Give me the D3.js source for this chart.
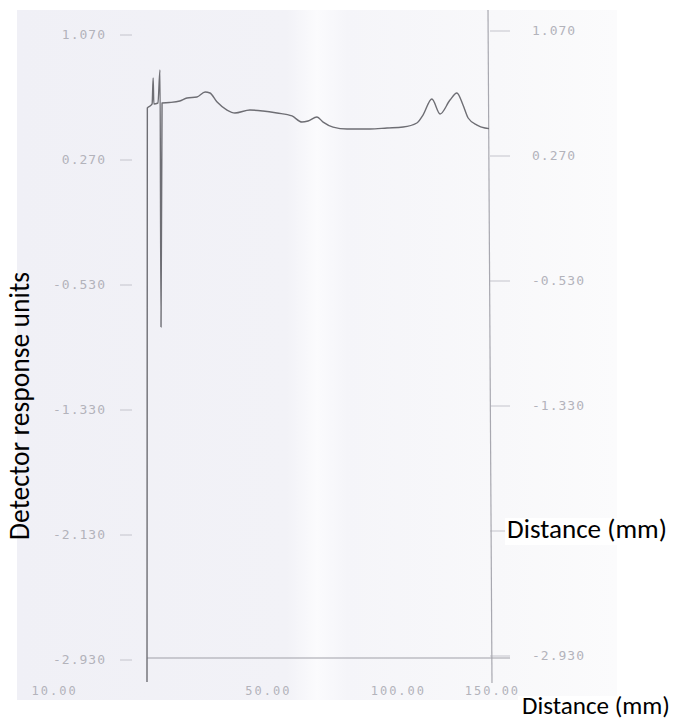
<!DOCTYPE html>
<html><head><meta charset="utf-8">
<script src="https://cdn.jsdelivr.net/npm/d3@7"></script>
<style>html,body{margin:0;padding:0;background:#fff;}svg{display:block;}</style>
</head><body>
<svg id="chart" width="674" height="721"></svg>
<script>
// ---- data ----
const yTicks = [1.070, 0.270, -0.530, -1.330, -2.130, -2.930];
const yTickLabels = ["1.070", "0.270", "-0.530", "-1.330", "-2.130", "-2.930"];
// right-side labels visible in the reference (the -2.130 one is covered by the axis title)
const yTickLabelsRight = ["1.070", "0.270", "-0.530", "-1.330", "", "-2.930"];
const xTickLabels = ["10.00", "50.00", "100.00", "150.00"];
const xTickAt = [-27, 35.5, 73.5, 101];
const distance = [0, 0.1, 0.9, 1.5, 1.8, 2.0, 3.2, 3.8, 4.1, 4.4, 6.5, 9.6, 11.7, 14.6, 17.0, 18.4, 20.5, 23.4, 25.7, 30.1, 33.9, 38.0, 42.4, 45.3, 47.1, 49.7, 51.5, 54.4, 58.5, 65.2, 70.2, 74.9, 78.9, 80.7, 83.3, 85.7, 88.6, 90.6, 92.4, 93.9, 96.5, 98.8, 100];
const response = [-3.084, 0.590, 0.603, 0.616, 0.782, 0.616, 0.622, 0.833, -0.812, 0.622, 0.625, 0.635, 0.654, 0.660, 0.692, 0.686, 0.628, 0.577, 0.558, 0.577, 0.571, 0.558, 0.539, 0.500, 0.507, 0.532, 0.500, 0.468, 0.456, 0.456, 0.462, 0.468, 0.494, 0.545, 0.648, 0.552, 0.641, 0.686, 0.609, 0.526, 0.481, 0.462, 0.458];
const yTitle = "Detector response units";
const xTitle = "Distance (mm)";

// ---- drawing ----
const svg = d3.select("#chart");
const x = d3.scaleLinear().domain([0, 100]).range([147, 489]);
const y = d3.scaleLinear().domain([1.07, -2.93]).range([33, 658]);

// scanned paper background
const defs = svg.append("defs");
const g = defs.append("linearGradient").attr("id", "paper").attr("x1", "0").attr("x2", "1").attr("y1", "0").attr("y2", "0");
[[0, "#f0f0f6"], [0.45, "#f2f2f7"], [0.50, "#fbfbfd"], [0.55, "#f5f5f9"], [0.8, "#f8f8fa"], [1, "#fbfbfc"]]
  .forEach(([o, c]) => g.append("stop").attr("offset", o).attr("stop-color", c));
svg.append("rect").attr("x", 17).attr("y", 10).attr("width", 600).attr("height", 690).attr("fill", "url(#paper)");

const labelFont = "'DejaVu Sans Mono', monospace";
const tickCol = "#b3b3bb";

// left tick labels
svg.append("g").selectAll("text").data(yTicks).join("text")
  .attr("x", 106).attr("y", d => y(d) + 2)
  .attr("text-anchor", "end").attr("dominant-baseline", "middle")
  .attr("font-family", labelFont).attr("font-size", 13).attr("letter-spacing", 1)
  .attr("fill", tickCol)
  .text((d, i) => yTickLabels[i]);
svg.append("g").selectAll("line").data(yTicks).join("line")
  .attr("x1", 120).attr("x2", 132).attr("y1", d => y(d) + 2).attr("y2", d => y(d) + 2)
  .attr("stroke", "#c4c4cc").attr("stroke-width", 1);

// right ticks + labels
svg.append("g").selectAll("line").data(yTicks).join("line")
  .attr("x1", 490).attr("x2", 510).attr("y1", d => y(d) - 2).attr("y2", d => y(d) - 2)
  .attr("stroke", "#c4c4cc").attr("stroke-width", 1);
svg.append("g").selectAll("text").data(yTicks.filter((d, i) => yTickLabelsRight[i])).join("text")
  .attr("x", 532).attr("y", d => y(d) - 2)
  .attr("dominant-baseline", "middle")
  .attr("font-family", labelFont).attr("font-size", 13).attr("letter-spacing", 1)
  .attr("fill", tickCol)
  .text(d => yTickLabelsRight[yTicks.indexOf(d)]);

// frame lines
svg.append("line").attr("x1", 488).attr("x2", 492).attr("y1", 10).attr("y2", 683)
  .attr("stroke", "#a8a8b0").attr("stroke-width", 1.2);
svg.append("line").attr("x1", x(0)).attr("x2", 510).attr("y1", y(-2.93)).attr("y2", y(-2.93))
  .attr("stroke", "#a0a0a8").attr("stroke-width", 1.2);

// bottom tick labels
svg.append("g").selectAll("text").data(xTickAt).join("text")
  .attr("x", d => x(d)).attr("y", 691)
  .attr("text-anchor", "middle").attr("dominant-baseline", "middle")
  .attr("font-family", labelFont).attr("font-size", 12).attr("letter-spacing", 2)
  .attr("fill", tickCol)
  .text((d, i) => xTickLabels[i]);

// trace
const pts = distance.map((d, i) => [d, response[i]]);
svg.append("path").datum(pts)
  .attr("d", d3.line().x(d => x(d[0])).y(d => y(d[1])).curve(d3.curveMonotoneX))
  .attr("fill", "none").attr("stroke", "#6e6e74").attr("stroke-width", 1.4)
  .attr("stroke-linejoin", "round");

// titles (fitted to target widths)
function fit(sel, target) {
  const len = sel.node().getComputedTextLength();
  const fs = parseFloat(sel.attr("font-size"));
  sel.attr("font-size", fs * target / len);
}
const titleFont = "Carlito, Calibri, 'Open Sans', sans-serif";
const yt = svg.append("text").attr("transform", "translate(29,406) rotate(-90)")
  .attr("text-anchor", "middle").attr("font-family", titleFont).attr("font-size", 18)
  .attr("fill", "#000").text(yTitle);
fit(yt, 268);

svg.append("rect").attr("x", 505).attr("y", 518).attr("width", 169).attr("height", 27).attr("fill", "#fff");
const xt1 = svg.append("text").attr("x", 507).attr("y", 538)
  .attr("font-family", titleFont).attr("font-size", 18).attr("fill", "#000").text(xTitle);
fit(xt1, 160);

svg.append("rect").attr("x", 518).attr("y", 696).attr("width", 156).attr("height", 25).attr("fill", "#fff");
const xt2 = svg.append("text").attr("x", 522).attr("y", 714)
  .attr("font-family", titleFont).attr("font-size", 17).attr("fill", "#000").text(xTitle);
fit(xt2, 148);
</script>
</body></html>
